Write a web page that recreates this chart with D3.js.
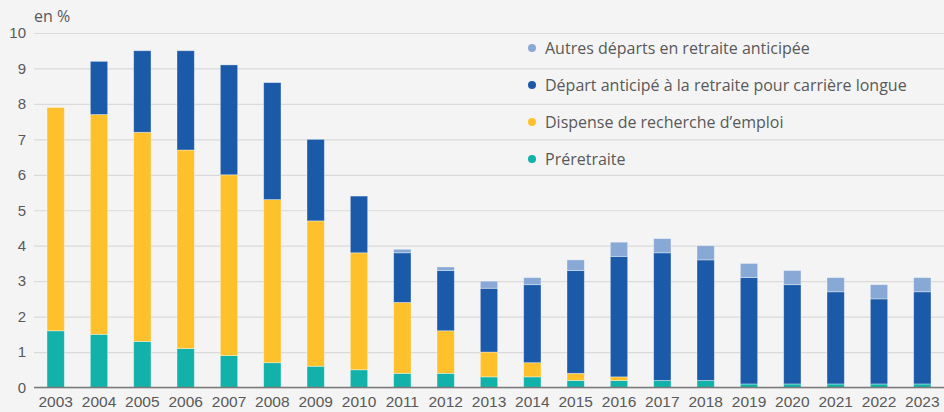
<!DOCTYPE html>
<html>
<head>
<meta charset="utf-8">
<script src="https://cdn.jsdelivr.net/npm/d3@7"></script>
<style>
  body { margin: 0; background: #f4f4f4; }
  svg { display: block; font-family: 'Open Sans', sans-serif; }
  .tick text { fill: #595959; }
</style>
</head>
<body>
<svg width="944" height="412"></svg>
<script>
const years = ['2003','2004','2005','2006','2007','2008','2009','2010','2011','2012','2013',
  '2014','2015','2016','2017','2018','2019','2020','2021','2022','2023'];

const preretraite = [1.6,1.5,1.3,1.1,0.9,0.7,0.6,0.5,0.4,0.4,0.3,0.3,0.2,0.2,0.2,0.2,0.1,0.1,0.1,0.1,0.1];
const dispense = [6.3,6.2,5.9,5.6,5.1,4.6,4.1,3.3,2.0,1.2,0.7,0.4,0.2,0.1,0,0,0,0,0,0,0];
const carriereLongue = [0,1.5,2.3,2.8,3.1,3.3,2.3,1.6,1.4,1.7,1.8,2.2,2.9,3.4,3.6,3.4,3.0,2.8,2.6,2.4,2.6];
const autres = [0,0,0,0,0,0,0,0,0.1,0.1,0.2,0.2,0.3,0.4,0.4,0.4,0.4,0.4,0.4,0.4,0.4];

const seriesKeys = ['preretraite', 'dispense', 'carriereLongue', 'autres'];
const seriesLabels = {
  autres: 'Autres départs en retraite anticipée',
  carriereLongue: 'Départ anticipé à la retraite pour carrière longue',
  dispense: 'Dispense de recherche d\u2019emploi',
  preretraite: 'Préretraite'
};
const colors = {
  preretraite: '#12b2aa',
  dispense: '#ffc12b',
  carriereLongue: '#1a5aa8',
  autres: '#88a8d6'
};

const table = years.map((y, i) => ({
  year: y,
  preretraite: preretraite[i],
  dispense: dispense[i],
  carriereLongue: carriereLongue[i],
  autres: autres[i]
}));

const svg = d3.select('svg');
const margin = { top: 33, right: 0, bottom: 24, left: 34 };
const width = 944, height = 412;

const x = d3.scaleBand()
  .domain(years)
  .range([margin.left, width - margin.right])
  .paddingInner(0.6)
  .paddingOuter(0.3);

const y = d3.scaleLinear()
  .domain([0, 10])
  .range([height - margin.bottom - 0.5, margin.top]);

// grid
svg.append('g')
  .attr('transform', `translate(${margin.left},0)`)
  .call(d3.axisLeft(y).ticks(10).tickSize(-(width - margin.left)).tickPadding(8))
  .call(g => g.select('.domain').remove())
  .call(g => g.selectAll('.tick line').attr('stroke', '#dadada').attr('stroke-width', 1.2))
  .call(g => g.selectAll('.tick text').attr('font-size', 15).attr('x', -8));

const stack = d3.stack().keys(seriesKeys)(table);

svg.append('g')
  .selectAll('g')
  .data(stack)
  .join('g')
  .attr('fill', d => colors[d.key])
  .selectAll('rect')
  .data(d => d.filter(p => p[1] - p[0] > 0))
  .join('rect')
  .attr('x', d => x(d.data.year))
  .attr('width', x.bandwidth())
  .attr('y', d => y(d[1]))
  .attr('height', d => y(d[0]) - y(d[1]))
  .attr('stroke', 'rgba(255,255,255,0.45)')
  .attr('stroke-width', 0.8);

// x axis
svg.append('g')
  .attr('transform', `translate(0,${y(0)})`)
  .call(d3.axisBottom(x).tickSize(0).tickPadding(8))
  .call(g => g.select('.domain').attr('stroke', '#7a7a7a').attr('stroke-width', 1.5)
    .attr('d', `M${margin.left},0H${width}`))
  .call(g => g.selectAll('.tick text').attr('font-size', 15.5));

// unit label
svg.append('text')
  .attr('x', margin.left)
  .attr('y', 22)
  .attr('fill', '#595959')
  .attr('font-size', 16)
  .text('en %');

// legend
const legendOrder = ['autres', 'carriereLongue', 'dispense', 'preretraite'];
const legend = svg.append('g')
  .selectAll('g')
  .data(legendOrder)
  .join('g')
  .attr('transform', (d, i) => `translate(532,${48 + i * 37})`);

legend.append('circle')
  .attr('r', 4)
  .attr('fill', d => colors[d]);

legend.append('text')
  .attr('x', 13)
  .attr('dy', '0.35em')
  .attr('fill', '#595959')
  .attr('font-size', 16)
  .text(d => seriesLabels[d]);
</script>
</body>
</html>
